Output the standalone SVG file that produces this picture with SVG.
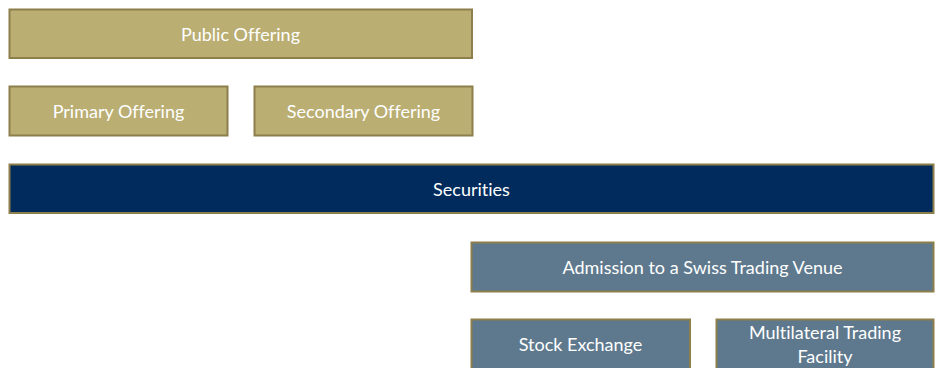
<svg xmlns="http://www.w3.org/2000/svg" width="938" height="368" viewBox="0 0 938 368">
  <style>
    .box { stroke: #8C7F4B; stroke-width: 2; }
    .gold { fill: #BAAE73; }
    .navy { fill: #002B5C; }
    .slate { fill: #5E798D; }
    .lbl { font-family: Lato, "Open Sans", "Liberation Sans", sans-serif; font-size: 18px; fill: #FFFFFF; text-anchor: middle; dominant-baseline: central; font-variant-ligatures: none; }
  </style>
  <rect width="938" height="368" fill="#FFFFFF"/>
  <g id="public-offering">
    <rect class="box gold" x="9.5" y="9.5" width="462.5" height="48.5"/>
    <text class="lbl" x="240.5" y="34">Public Offering</text>
  </g>
  <g id="primary-offering">
    <rect class="box gold" x="9.5" y="86.5" width="218" height="49"/>
    <text class="lbl" x="118.5" y="111">Primary Offering</text>
  </g>
  <g id="secondary-offering">
    <rect class="box gold" x="254.5" y="86.5" width="218" height="49"/>
    <text class="lbl" x="363.5" y="111">Secondary Offering</text>
  </g>
  <g id="securities">
    <rect class="box navy" x="9.5" y="164.5" width="924" height="48.5"/>
    <text class="lbl" x="471.5" y="189">Securities</text>
  </g>
  <g id="admission">
    <rect class="box slate" x="471.5" y="242.5" width="462" height="49"/>
    <text class="lbl" x="702.5" y="267">Admission to a Swiss Trading Venue</text>
  </g>
  <g id="stock-exchange">
    <rect class="box slate" x="471.5" y="319.5" width="218.5" height="50"/>
    <text class="lbl" x="580.5" y="344">Stock Exchange</text>
  </g>
  <g id="mtf">
    <rect class="box slate" x="716.5" y="319.5" width="217" height="50"/>
    <text class="lbl" x="825" y="332">Multilateral Trading</text>
    <text class="lbl" x="825" y="356">Facility</text>
  </g>
  <g id="connectors"></g>
</svg>
